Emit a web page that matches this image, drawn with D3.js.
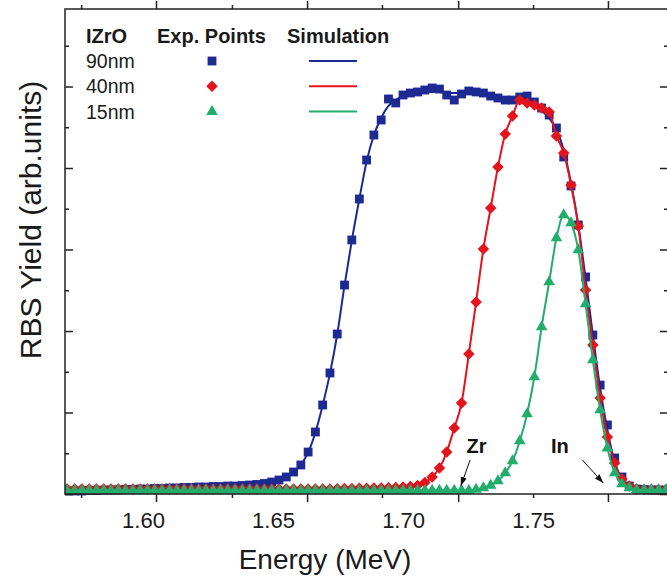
<!DOCTYPE html>
<html><head><meta charset="utf-8">
<script src="https://cdn.jsdelivr.net/npm/d3@7"></script>
<style>html,body{margin:0;padding:0;background:#fff;} svg{display:block;font-family:"Liberation Sans",Arial,sans-serif;}</style>
</head><body><svg id="c" width="667" height="587"></svg>
<script>
// ---- data ----
const energy = [1.5708,1.5737,1.5765,1.5793,1.5821,1.5849,1.5877,1.5905,1.5933,1.5961,
1.5989,1.6017,1.6045,1.6073,1.6102,1.6130,1.6158,1.6186,1.6214,1.6242,
1.6270,1.6298,1.6326,1.6354,1.6382,1.6410,1.6438,1.6467,1.6495,1.6523,
1.6551,1.6579,1.6607,1.6635,1.6663,1.6691,1.6719,1.6747,1.6775,1.6803,
1.6832,1.6860,1.6888,1.6916,1.6944,1.6972,1.7000,1.7028,1.7056,1.7084,
1.7112,1.7140,1.7168,1.7197,1.7225,1.7253,1.7281,1.7309,1.7337,1.7365,
1.7393,1.7421,1.7449,1.7477,1.7505,1.7533,1.7562,1.7590,1.7618,1.7646,
1.7674,1.7702,1.7730,1.7758,1.7786,1.7814,1.7842,1.7870,1.7898,1.7927,
1.7955,1.7983,1.8011];

const exp90 = [0.037,0.037,0.037,0.043,0.043,0.049,0.049,0.049,0.055,0.055,
0.061,0.061,0.067,0.067,0.074,0.074,0.080,0.080,0.086,0.086,
0.092,0.092,0.098,0.098,0.104,0.110,0.117,0.129,0.147,0.172,
0.209,0.270,0.356,0.515,0.761,1.092,1.485,1.963,2.564,3.117,
3.620,4.098,4.405,4.589,4.847,4.798,4.896,4.920,4.933,4.957,
4.982,4.969,4.896,4.834,4.908,4.945,4.933,4.920,4.883,4.859,
4.834,4.834,4.871,4.883,4.810,4.736,4.650,4.491,4.135,3.779,
3.301,2.663,1.951,1.337,0.847,0.442,0.209,0.098,0.061,0.055,
0.049,0.049,0.049];

const sim90 = [0.037,0.037,0.040,0.043,0.046,0.049,0.050,0.052,0.055,0.058,
0.061,0.064,0.067,0.070,0.073,0.076,0.079,0.082,0.085,0.088,
0.091,0.094,0.097,0.100,0.104,0.110,0.117,0.128,0.145,0.172,
0.209,0.268,0.356,0.510,0.755,1.090,1.480,1.960,2.560,3.110,
3.620,4.080,4.405,4.613,4.761,4.834,4.883,4.908,4.920,4.933,
4.933,4.933,4.920,4.920,4.920,4.908,4.908,4.896,4.883,4.871,
4.859,4.834,4.810,4.785,4.748,4.699,4.613,4.466,4.221,3.816,
3.301,2.650,1.951,1.301,0.785,0.393,0.184,0.098,0.062,0.055,
0.050,0.049,0.049];

const exp40 = [0.061,0.061,0.061,0.061,0.061,0.061,0.061,0.061,0.061,0.061,
0.061,0.061,0.061,0.061,0.061,0.061,0.061,0.061,0.061,0.061,
0.061,0.061,0.061,0.061,0.061,0.061,0.061,0.061,0.061,0.061,
0.061,0.061,0.061,0.061,0.061,0.061,0.061,0.064,0.067,0.067,
0.070,0.070,0.074,0.074,0.077,0.080,0.086,0.092,0.104,0.141,
0.209,0.319,0.515,0.810,1.117,1.718,2.356,3.006,3.509,4.012,
4.417,4.638,4.834,4.798,4.773,4.736,4.687,4.393,4.184,3.791,
3.288,2.503,1.828,1.178,0.699,0.380,0.184,0.098,0.061,0.055,
0.055,0.055,0.055];

const exp15 = [0.043,0.043,0.043,0.043,0.043,0.043,0.043,0.043,0.043,0.043,
0.043,0.043,0.043,0.043,0.043,0.043,0.043,0.043,0.043,0.043,
0.043,0.043,0.043,0.043,0.043,0.043,0.043,0.043,0.043,0.043,
0.043,0.043,0.043,0.043,0.043,0.043,0.043,0.043,0.043,0.043,
0.043,0.043,0.043,0.043,0.043,0.043,0.043,0.043,0.043,0.043,
0.043,0.043,0.043,0.043,0.043,0.043,0.055,0.074,0.104,0.160,
0.258,0.405,0.650,0.982,1.436,2.049,2.601,3.141,3.423,3.325,
2.994,2.331,1.644,1.031,0.564,0.258,0.123,0.074,0.049,0.049,
0.049,0.049,0.049];

const sim40 = exp40;   // simulation follows the measured points
const sim15 = exp15;

const xLabelTicks = [1.60, 1.65, 1.70, 1.75];
const xMajorTicks = [1.6050, 1.6631, 1.7212, 1.7788];
const xMinorTicks = [1.5762, 1.6342, 1.6919, 1.7500];
const yMajorTicks = [0, 1, 2, 3, 4, 5];
const yMinorTicks = [0.5, 1.5, 2.5, 3.5, 4.5, 5.5];

const legendTitle = "IZrO";
const legendHeaders = ["Exp. Points", "Simulation"];
const seriesNames = ["90nm", "40nm", "15nm"];

const annotations = [
  {label: "Zr", tx: 1.7283, ty: 0.50, x1: 1.7258, y1: 0.417, x2: 1.7222, y2: 0.098},
  {label: "In", tx: 1.7603, ty: 0.50, x1: 1.7690, y1: 0.417, x2: 1.7770, y2: 0.135}
];

// ---- layout ----
const W = 667, H = 587;
const L = 65, R = 668, T = 9, B = 494;
const svg = d3.select("#c");

const x = d3.scaleLinear().domain([1.570, 1.8019]).range([L, R]);
const y = d3.scaleLinear().domain([0, 5.951]).range([B, T]);

const colors = {"90nm": "#1c2a92", "40nm": "#e5131b", "15nm": "#22ad6c"};
const series = [
  {name: "90nm", pts: exp90, sim: sim90, sym: d3.symbolSquare, size: 78, rot: 0},
  {name: "40nm", pts: exp40, sim: sim40, sym: d3.symbolSquare, size: 66, rot: 45},
  {name: "15nm", pts: exp15, sim: sim15, sym: d3.symbolTriangle, size: 58, rot: 0}
];

// clip
svg.append("defs").append("clipPath").attr("id","clip")
  .append("rect").attr("x", L).attr("y", T).attr("width", R - L).attr("height", B - T + 4);

const marker = svg.select("defs").append("marker").attr("id","arr")
  .attr("viewBox","0 0 10 10").attr("refX",10).attr("refY",5)
  .attr("markerWidth",9).attr("markerHeight",9).attr("orient","auto-start-reverse")
  .attr("markerUnits","userSpaceOnUse");
marker.append("path").attr("d","M0,1.5 L10,5 L0,8.5 Z").attr("fill","#111");

const plot = svg.append("g").attr("clip-path","url(#clip)");

const line = d3.line().x(d => x(d[0])).y(d => y(d[1])).curve(d3.curveMonotoneX);

series.forEach(s => {
  const c = colors[s.name];
  const g = plot.append("g");
  const pts = energy.map((e, i) => [e, s.pts[i]]);
  g.selectAll("path.pt").data(pts).enter().append("path")
    .attr("class","pt")
    .attr("d", d3.symbol().type(s.sym).size(s.size))
    .attr("transform", d => `translate(${x(d[0])},${y(d[1])}) rotate(${s.rot})`)
    .attr("fill", c);
  g.append("path").datum(energy.map((e, i) => [e, s.sim[i]]))
    .attr("d", line).attr("fill","none").attr("stroke", c).attr("stroke-width", 2);
});

// frame
svg.append("rect").attr("x", L).attr("y", T).attr("width", R - L).attr("height", B - T)
  .attr("fill","none").attr("stroke","#222").attr("stroke-width",1.5);

// ticks (inward)
function ticks(axisFn, scale, vals, len, transform) {
  svg.append("g").attr("transform", transform)
    .call(axisFn(scale).tickValues(vals).tickSize(len).tickFormat(""))
    .call(g => g.select(".domain").remove())
    .call(g => g.selectAll("line").attr("stroke","#222").attr("stroke-width",1.5));
}
ticks(d3.axisTop, x, xMajorTicks, -8, `translate(0,${B})`);
ticks(d3.axisTop, x, xMinorTicks, -4, `translate(0,${B})`);
ticks(d3.axisBottom, x, xMajorTicks, -8, `translate(0,${T})`);
ticks(d3.axisBottom, x, xMinorTicks, -4, `translate(0,${T})`);
ticks(d3.axisLeft, y, yMajorTicks, -8, `translate(${L},0)`);
ticks(d3.axisLeft, y, yMinorTicks, -4, `translate(${L},0)`);
ticks(d3.axisRight, y, yMajorTicks, -8, `translate(${R},0)`);
ticks(d3.axisRight, y, yMinorTicks, -4, `translate(${R},0)`);

// x labels
svg.append("g").attr("transform", `translate(0,${B})`)
  .call(d3.axisBottom(x).tickValues(xLabelTicks).tickSize(0).tickPadding(18).tickFormat(d3.format(".2f")))
  .call(g => g.select(".domain").remove())
  .call(g => g.selectAll("text").attr("font-size", 22).attr("fill","#1a1a1a")
      .attr("font-family", '"Liberation Sans",Arial,sans-serif'));

svg.append("text").attr("x", 325).attr("y", 569).attr("text-anchor","middle")
  .attr("font-size", 28).attr("fill","#1a1a1a").text("Energy (MeV)");
svg.append("text").attr("transform", "translate(41,220) rotate(-90)").attr("text-anchor","middle")
  .attr("font-size", 30).attr("fill","#1a1a1a").text("RBS Yield (arb.units)");

// legend
const lg = svg.append("g");
lg.append("text").attr("x", 86).attr("y", 43).attr("font-size", 20).attr("font-weight","bold").attr("fill","#1a1a1a").text(legendTitle);
lg.append("text").attr("x", 157).attr("y", 43).attr("font-size", 20).attr("font-weight","bold").attr("fill","#1a1a1a").text(legendHeaders[0]);
lg.append("text").attr("x", 287).attr("y", 43).attr("font-size", 20).attr("font-weight","bold").attr("fill","#1a1a1a").text(legendHeaders[1]);
series.forEach((s, i) => {
  const cy = 61 + i * 25.3;
  lg.append("text").attr("x", 86).attr("y", cy + 7).attr("font-size", 19.5).attr("fill","#1a1a1a").text(s.name);
  lg.append("path").attr("d", d3.symbol().type(s.sym).size(s.size))
    .attr("transform", `translate(212,${cy}) rotate(${s.rot})`).attr("fill", colors[s.name]);
  lg.append("line").attr("x1", 309).attr("x2", 357).attr("y1", cy).attr("y2", cy)
    .attr("stroke", colors[s.name]).attr("stroke-width", 2);
});

// annotations
annotations.forEach(a => {
  svg.append("text").attr("x", x(a.tx)).attr("y", y(a.ty)).attr("text-anchor","middle")
    .attr("font-size", 20).attr("font-weight","bold").attr("fill","#111").text(a.label);
  svg.append("line").attr("x1", x(a.x1)).attr("y1", y(a.y1)).attr("x2", x(a.x2)).attr("y2", y(a.y2))
    .attr("stroke","#111").attr("stroke-width",1).attr("marker-end","url(#arr)");
});
</script></body></html>
